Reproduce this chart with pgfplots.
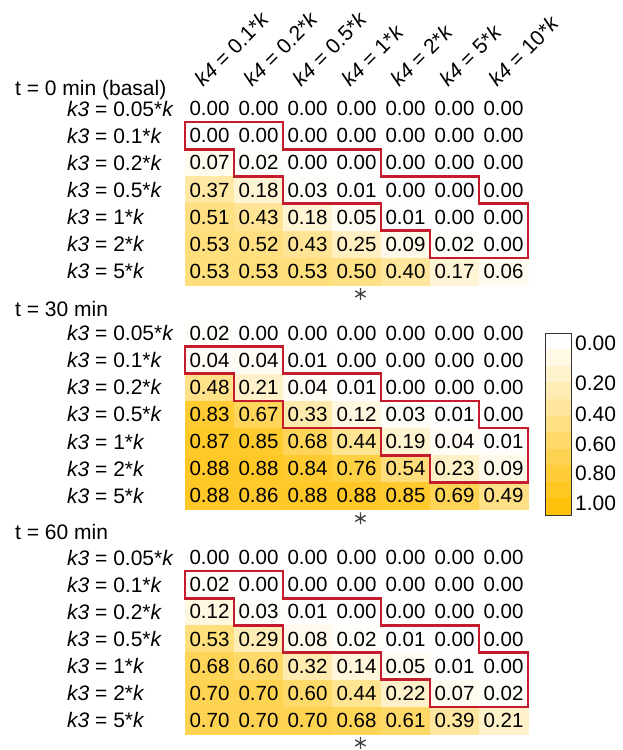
\documentclass[border=0pt]{standalone}
\usepackage{pgfplots}
\pgfplotsset{compat=1.18}
\usepackage{fontspec}
\setmainfont{Liberation Sans}
\pgfplotsset{colormap={wy}{rgb255=(255,255,255) rgb255=(255,193,10)}}
\definecolor{outl}{RGB}{196,28,45}
\newcommand{\lfont}{\fontsize{21}{25}\selectfont}
\newcommand{\nfont}{\fontsize{20.5}{24}\selectfont}
\pgfplotsset{
  hm/.style={
    hide axis, scale only axis, width=343pt, height=190pt,
    xmin=-0.5, xmax=6.5, ymin=-0.5, ymax=6.5, y dir=reverse,
    colormap name=wy, point meta min=0, point meta max=1,
    anchor=south west, clip=false,
  },
  hmplot/.style={
    matrix plot, mesh/cols=7, mesh/rows=7, point meta=explicit,
    nodes near coords={\pgfmathprintnumber[fixed,fixed zerofill,precision=2,assume math mode=true]{\pgfplotspointmeta}},
    every node near coord/.append style={anchor=center, black, font=\nfont, inner sep=0pt},
  },
  outline/.style={draw=outl, line width=2.7pt, line join=miter, mark=none},
  star/.style={only marks, mark=asterisk, mark size=6pt, mark options={draw=black!75, line width=1.3pt}},
}
\begin{document}
\begin{tikzpicture}[x=1pt,y=1pt]
\path[use as bounding box] (0,0) rectangle (623,750);
% ---------- t = 0
\begin{axis}[hm, at={(185pt,465pt)}]
\addplot[hmplot] table[row sep=\\, meta=c] {
x y c\\
0 0 0.00\\ 1 0 0.00\\ 2 0 0.00\\ 3 0 0.00\\ 4 0 0.00\\ 5 0 0.00\\ 6 0 0.00\\
0 1 0.00\\ 1 1 0.00\\ 2 1 0.00\\ 3 1 0.00\\ 4 1 0.00\\ 5 1 0.00\\ 6 1 0.00\\
0 2 0.07\\ 1 2 0.02\\ 2 2 0.00\\ 3 2 0.00\\ 4 2 0.00\\ 5 2 0.00\\ 6 2 0.00\\
0 3 0.37\\ 1 3 0.18\\ 2 3 0.03\\ 3 3 0.01\\ 4 3 0.00\\ 5 3 0.00\\ 6 3 0.00\\
0 4 0.51\\ 1 4 0.43\\ 2 4 0.18\\ 3 4 0.05\\ 4 4 0.01\\ 5 4 0.00\\ 6 4 0.00\\
0 5 0.53\\ 1 5 0.52\\ 2 5 0.43\\ 3 5 0.25\\ 4 5 0.09\\ 5 5 0.02\\ 6 5 0.00\\
0 6 0.53\\ 1 6 0.53\\ 2 6 0.53\\ 3 6 0.50\\ 4 6 0.40\\ 5 6 0.17\\ 6 6 0.06\\
};
\addplot[outline] coordinates {(-0.5,0.5) (1.5,0.5) (1.5,1.5) (3.5,1.5) (3.5,2.5) (5.5,2.5) (5.5,3.5) (6.5,3.5) (6.5,5.5) (4.5,5.5) (4.5,4.5) (3.5,4.5) (3.5,3.5) (1.5,3.5) (1.5,2.5) (0.5,2.5) (0.5,1.5) (-0.5,1.5) (-0.5,0.5) (1.5,0.5)};
\addplot[star] coordinates {(3.08,6.83)};
\end{axis}
% ---------- t = 30
\begin{axis}[hm, at={(185pt,240.5pt)}]
\addplot[hmplot] table[row sep=\\, meta=c] {
x y c\\
0 0 0.02\\ 1 0 0.00\\ 2 0 0.00\\ 3 0 0.00\\ 4 0 0.00\\ 5 0 0.00\\ 6 0 0.00\\
0 1 0.04\\ 1 1 0.04\\ 2 1 0.01\\ 3 1 0.00\\ 4 1 0.00\\ 5 1 0.00\\ 6 1 0.00\\
0 2 0.48\\ 1 2 0.21\\ 2 2 0.04\\ 3 2 0.01\\ 4 2 0.00\\ 5 2 0.00\\ 6 2 0.00\\
0 3 0.83\\ 1 3 0.67\\ 2 3 0.33\\ 3 3 0.12\\ 4 3 0.03\\ 5 3 0.01\\ 6 3 0.00\\
0 4 0.87\\ 1 4 0.85\\ 2 4 0.68\\ 3 4 0.44\\ 4 4 0.19\\ 5 4 0.04\\ 6 4 0.01\\
0 5 0.88\\ 1 5 0.88\\ 2 5 0.84\\ 3 5 0.76\\ 4 5 0.54\\ 5 5 0.23\\ 6 5 0.09\\
0 6 0.88\\ 1 6 0.86\\ 2 6 0.88\\ 3 6 0.88\\ 4 6 0.85\\ 5 6 0.69\\ 6 6 0.49\\
};
\addplot[outline] coordinates {(-0.5,0.5) (1.5,0.5) (1.5,1.5) (3.5,1.5) (3.5,2.5) (5.5,2.5) (5.5,3.5) (6.5,3.5) (6.5,5.5) (4.5,5.5) (4.5,4.5) (3.5,4.5) (3.5,3.5) (1.5,3.5) (1.5,2.5) (0.5,2.5) (0.5,1.5) (-0.5,1.5) (-0.5,0.5) (1.5,0.5)};
\addplot[star] coordinates {(3.08,6.83)};
\end{axis}
% ---------- t = 60
\begin{axis}[hm, at={(185pt,16pt)}]
\addplot[hmplot] table[row sep=\\, meta=c] {
x y c\\
0 0 0.00\\ 1 0 0.00\\ 2 0 0.00\\ 3 0 0.00\\ 4 0 0.00\\ 5 0 0.00\\ 6 0 0.00\\
0 1 0.02\\ 1 1 0.00\\ 2 1 0.00\\ 3 1 0.00\\ 4 1 0.00\\ 5 1 0.00\\ 6 1 0.00\\
0 2 0.12\\ 1 2 0.03\\ 2 2 0.01\\ 3 2 0.00\\ 4 2 0.00\\ 5 2 0.00\\ 6 2 0.00\\
0 3 0.53\\ 1 3 0.29\\ 2 3 0.08\\ 3 3 0.02\\ 4 3 0.01\\ 5 3 0.00\\ 6 3 0.00\\
0 4 0.68\\ 1 4 0.60\\ 2 4 0.32\\ 3 4 0.14\\ 4 4 0.05\\ 5 4 0.01\\ 6 4 0.00\\
0 5 0.70\\ 1 5 0.70\\ 2 5 0.60\\ 3 5 0.44\\ 4 5 0.22\\ 5 5 0.07\\ 6 5 0.02\\
0 6 0.70\\ 1 6 0.70\\ 2 6 0.70\\ 3 6 0.68\\ 4 6 0.61\\ 5 6 0.39\\ 6 6 0.21\\
};
\addplot[outline] coordinates {(-0.5,0.5) (1.5,0.5) (1.5,1.5) (3.5,1.5) (3.5,2.5) (5.5,2.5) (5.5,3.5) (6.5,3.5) (6.5,5.5) (4.5,5.5) (4.5,4.5) (3.5,4.5) (3.5,3.5) (1.5,3.5) (1.5,2.5) (0.5,2.5) (0.5,1.5) (-0.5,1.5) (-0.5,0.5) (1.5,0.5)};
\addplot[star] coordinates {(3.08,6.83)};
\end{axis}
% ---------- colour bar
\begin{axis}[at={(545pt,235pt)}, anchor=south west, scale only axis, width=26pt, height=182pt,
  xmin=-0.5, xmax=1.5, ymin=-0.5, ymax=10.5, y dir=reverse,
  colormap name=wy, point meta min=0, point meta max=1,
  xtick=\empty, ytick={0.104,2.52,4.39,6.21,7.96,9.77},
  yticklabels={0.00,0.20,0.40,0.60,0.80,1.00},
  yticklabel pos=right, tick style={draw=none},
  yticklabel style={font=\lfont, anchor=west, inner sep=0pt, xshift=4pt},
  axis line style={draw=black!80, line width=0.9pt}, axis on top]
\addplot[matrix plot, mesh/cols=2, mesh/rows=11, point meta=explicit] table[row sep=\\, meta=c] {
x y c\\
0 0 0.0\\ 1 0 0.0\\
0 1 0.1\\ 1 1 0.1\\
0 2 0.2\\ 1 2 0.2\\
0 3 0.3\\ 1 3 0.3\\
0 4 0.4\\ 1 4 0.4\\
0 5 0.5\\ 1 5 0.5\\
0 6 0.6\\ 1 6 0.6\\
0 7 0.7\\ 1 7 0.7\\
0 8 0.8\\ 1 8 0.8\\
0 9 0.9\\ 1 9 0.9\\
0 10 1.0\\ 1 10 1.0\\
};
\end{axis}
% ---------- labels
\foreach \i/\lab in {0/0.1,1/0.2,2/0.5,3/1,4/2,5/5,6/10} {
  \node[rotate=45, anchor=base west, inner sep=0pt, font=\lfont] at ({185+49*(\i+0.5)-6}, 662) {\textit{k4} = \lab*\textit{k}};
}
\node[anchor=base west, inner sep=0pt, font=\lfont] at (15, 654) {t = 0 min (basal)};
\node[anchor=base west, inner sep=0pt, font=\lfont] at (15, 433) {t = 30 min};
\node[anchor=base west, inner sep=0pt, font=\lfont] at (15, 210) {t = 60 min};
\foreach \top in {95,319.5,544} {
  \foreach \j/\lab in {0/0.05,1/0.1,2/0.2,3/0.5,4/1,5/2,6/5} {
    \node[anchor=west, inner sep=0pt, font=\lfont] at (67, {750-\top-27.14*(\j+0.5)}) {\textit{k3} = \lab*\textit{k}};
  }
}
\end{tikzpicture}
\end{document}
